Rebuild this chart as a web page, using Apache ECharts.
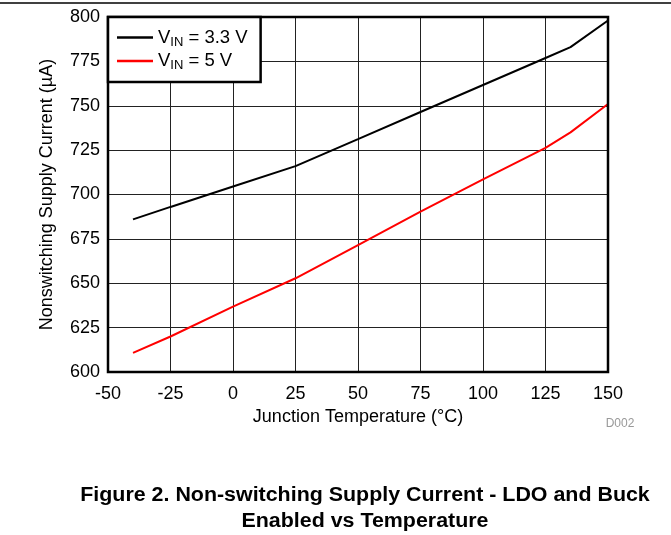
<!DOCTYPE html>
<html><head><meta charset="utf-8">
<script src="https://cdn.jsdelivr.net/npm/echarts@6/dist/echarts.min.js"></script>
<style>html,body{margin:0;padding:0;background:#fff}#c{width:671px;height:535px}</style>
</head><body><div id="c"></div>
<script>
const temps = [-40, -25, 0, 25, 50, 75, 100, 125, 135, 150];
const vin33 = [686, 693, 704.5, 716, 731.2, 746.5, 761.7, 776.9, 783, 798];
const vin5 = [610.8, 620, 636.8, 652.8, 671.5, 690.3, 708.5, 726.3, 735, 751];
const seriesNames = ['VIN33', 'VIN5'];
const xTicks = [-50, -25, 0, 25, 50, 75, 100, 125, 150];
const yTicks = [600, 625, 650, 675, 700, 725, 750, 775, 800];

const font = 'Liberation Sans, Arial, sans-serif';
const chart = echarts.init(document.getElementById('c'), null, {renderer: 'canvas'});
const legendLabels = {VIN33: '{a|V}{s|IN}{a| = 3.3 V}', VIN5: '{a|V}{s|IN}{a| = 5 V}'};
chart.setOption({
  animation: false,
  textStyle: {fontFamily: font},
  grid: {left: 108, right: 63, top: 17, bottom: 163, show: true, borderColor: '#000', borderWidth: 2.5, z: 5},
  xAxis: {
    type: 'value', min: xTicks[0], max: xTicks[xTicks.length - 1], interval: 25,
    axisLine: {show: false}, axisTick: {show: false},
    axisLabel: {color: '#000', fontSize: 18, margin: 13, fontFamily: font},
    splitLine: {show: true, lineStyle: {color: '#222', width: 1}},
    name: 'Junction Temperature (°C)', nameLocation: 'middle', nameGap: 35,
    nameTextStyle: {color: '#000', fontSize: 18, fontFamily: font}
  },
  yAxis: {
    type: 'value', min: yTicks[0], max: yTicks[yTicks.length - 1], interval: 25,
    axisLine: {show: false}, axisTick: {show: false},
    axisLabel: {color: '#000', fontSize: 18, margin: 8, fontFamily: font},
    splitLine: {show: true, lineStyle: {color: '#222', width: 1}},
    name: 'Nonswitching Supply Current (µA)', nameLocation: 'middle', nameGap: 52,
    nameTextStyle: {color: '#000', fontSize: 18, fontFamily: font}
  },
  legend: {
    orient: 'vertical', left: 108, top: 17, padding: [11, 13, 10, 9], itemGap: 3,
    backgroundColor: '#fff', borderColor: '#000', borderWidth: 2.5,
    icon: 'rect', itemWidth: 36, itemHeight: 2.5, z: 10,
    data: seriesNames,
    formatter: n => legendLabels[n],
    textStyle: {
      color: '#000', fontFamily: font,
      rich: {
        a: {fontSize: 18.5, color: '#000', fontFamily: font},
        s: {fontSize: 13, color: '#000', fontFamily: font, padding: [9, 0, 0, 0]}
      }
    }
  },
  series: [
    {name: seriesNames[0], type: 'line', data: temps.map((t, i) => [t, vin33[i]]), showSymbol: false, lineStyle: {color: '#000', width: 2}, itemStyle: {color: '#000'}},
    {name: seriesNames[1], type: 'line', data: temps.map((t, i) => [t, vin5[i]]), showSymbol: false, lineStyle: {color: '#ff0000', width: 2}, itemStyle: {color: '#ff0000'}}
  ],
  graphic: [
    {type: 'line', shape: {x1: 0, y1: 3, x2: 671, y2: 3}, style: {stroke: '#000', lineWidth: 1.5}},
    {type: 'text', x: 620, y: 424, style: {text: 'D002', fill: '#999', font: '12px ' + font, textAlign: 'center', textVerticalAlign: 'middle'}},
    {type: 'text', x: 365, y: 495, scaleX: 1.07, style: {text: 'Figure 2. Non-switching Supply Current - LDO and Buck', fill: '#000', font: 'bold 20px ' + font, textAlign: 'center', textVerticalAlign: 'middle'}},
    {type: 'text', x: 365, y: 521, scaleX: 1.07, style: {text: 'Enabled vs Temperature', fill: '#000', font: 'bold 20px ' + font, textAlign: 'center', textVerticalAlign: 'middle'}}
  ]
});
</script></body></html>
